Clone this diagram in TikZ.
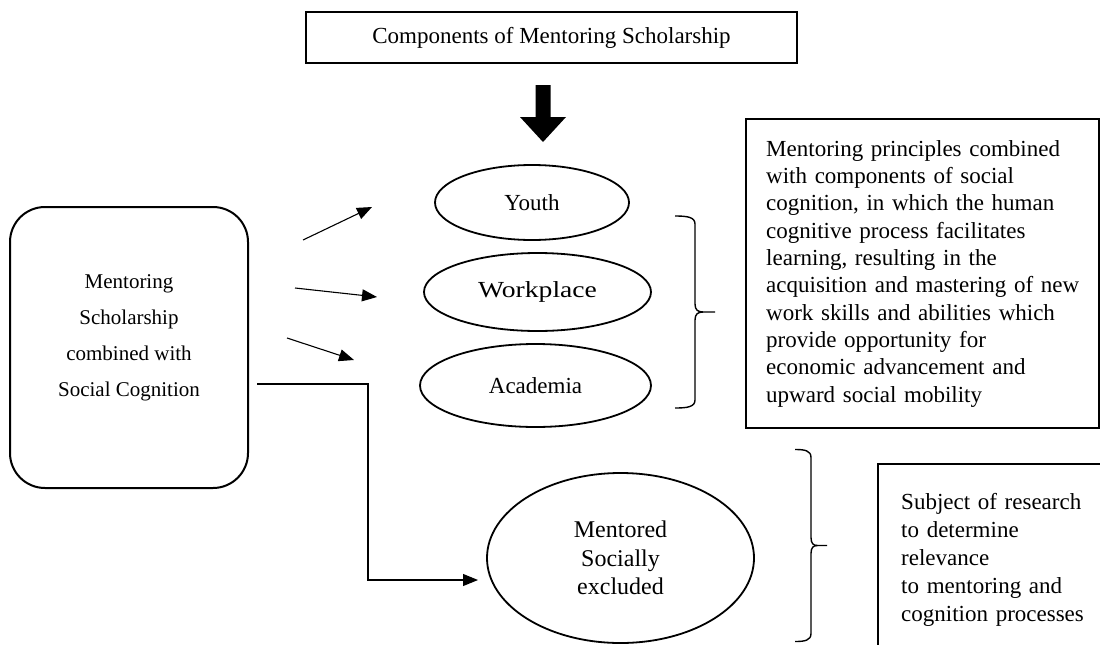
\documentclass[tikz,border=0pt]{standalone}
\usepackage{fontspec}
\setmainfont{Liberation Serif}
\usetikzlibrary{arrows.meta,positioning,shapes.geometric}

\tikzset{
  oval/.style={draw, ellipse, line width=1.8pt, inner sep=0pt, font=\fontsize{23}{27}\selectfont},
  textbox/.style={draw, line width=2.4pt, align=left, anchor=north west, font=\fontsize{23}{27.3}\selectfont},
  thinarrow/.style={line width=1.1pt, -{Triangle[length=15pt,width=12pt]}},
  rbrace/.pic={
    \draw[line width=1.4pt] (-40,-96) .. controls (-28,-96) and (-20,-95) .. (-20,-88) -- (-20,-8)
      .. controls (-20,-2) and (-17,0) .. (-12,0) -- (0,0);
    \draw[line width=1.4pt] (-12,0) .. controls (-17,0) and (-20,2) .. (-20,8) -- (-20,88)
      .. controls (-20,95) and (-28,96) .. (-40,96);
  }
}

\begin{document}
\begin{tikzpicture}[x=1pt,y=-1pt]
          \clip (0,0) rectangle (1100,645);

          \node[draw, line width=2.4pt, minimum width=491pt, minimum height=51pt, font=\fontsize{23}{27}\selectfont] (comp) at (551.5,37.5) {Components of Mentoring Scholarship};
          \fill (535.5,85) -- (550.5,85) -- (550.5,117) -- (566,117) -- (543,142) -- (520,117) -- (535.5,117) -- cycle;

          \node[draw, line width=2pt, rounded corners=35pt, minimum width=238pt, minimum height=281pt] (scholar) at (129,347.5) {};
          \node[align=center, font=\fontsize{21}{36}\selectfont] (scholartext) at (129,337.5) {Mentoring\\Scholarship\\combined with\\Social Cognition};

          \node[oval, minimum width=194pt, minimum height=75pt] (youth) at (532,202.5) {Youth};
          \node[oval, minimum width=227pt, minimum height=78pt] (work) at (537.5,292) {\scalebox{1.2}[1]{Workplace}};
          \node[oval, minimum width=231pt, minimum height=83pt] (acad) at (535.5,385.5) {Academia};
          \node[oval, minimum width=267pt, minimum height=170pt, align=center, font=\fontsize{24}{28.5}\selectfont] (excluded) at (620.5,558) {Mentored\\Socially\\excluded};

          \coordinate (a1s) at (303,240);
          \coordinate (a1e) at (372,207);
          \coordinate (a2s) at (295,288);
          \coordinate (a2e) at (377,297);
          \coordinate (a3s) at (287,338);
          \coordinate (a3e) at (354,360);
          \draw[thinarrow] (a1s) -- (a1e);
          \draw[thinarrow] (a2s) -- (a2e);
          \draw[thinarrow] (a3s) -- (a3e);

          \coordinate (elbow) at (257,384);
          \coordinate (turn) at (368,580);
          \coordinate (exin) at (478,580);
          \draw[thinarrow] (elbow) -| (turn) -- (exin);

          \pic at (715,312) {rbrace};
          \pic[xscale=0.8] at (827,545.5) {rbrace};

          \node[textbox, text width=313pt, inner xsep=20pt, minimum height=309pt] (principles) at (745,118) {Mentoring principles combined\\with components of social\\cognition, in which the human\\cognitive process facilitates\\learning, resulting in the\\acquisition and mastering of new\\work skills and abilities which\\provide opportunity for\\economic advancement and\\upward social mobility};
          \node[textbox, text width=220pt, inner xsep=23pt, minimum height=192pt, font=\fontsize{23}{28}\selectfont] (research) at (877,463) {Subject of research\\to determine\\relevance\\to mentoring and\\cognition processes};
        \end{tikzpicture}
\end{document}
